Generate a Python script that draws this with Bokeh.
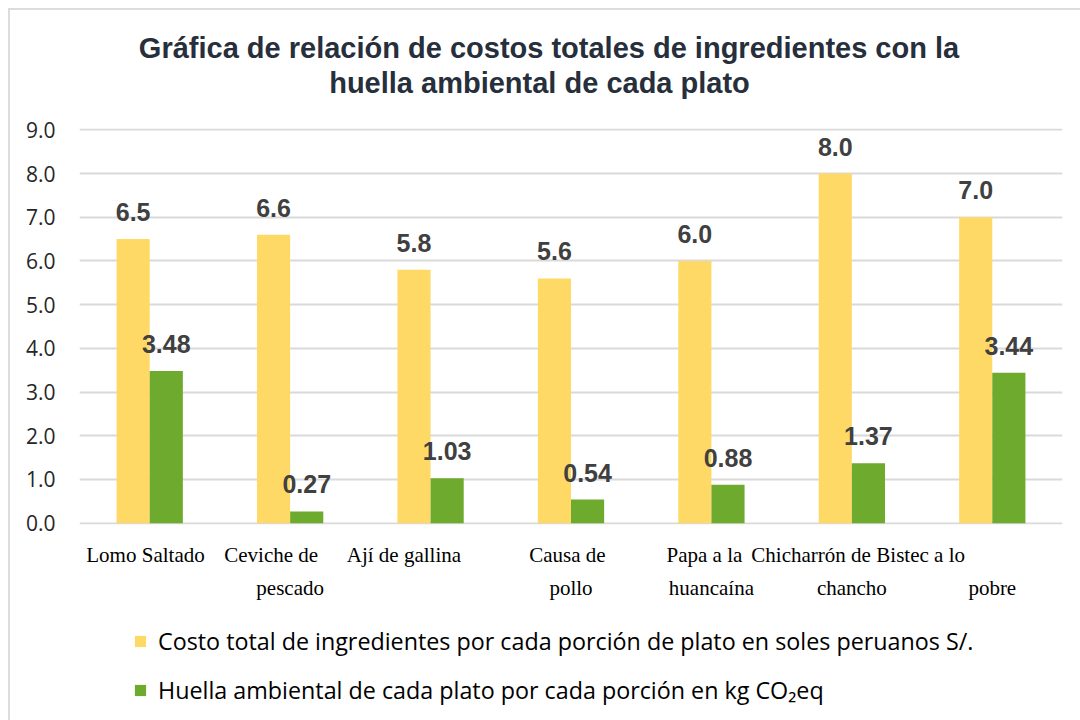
from bokeh.plotting import figure
from bokeh.layouts import column
from bokeh.models import (ColumnDataSource, Range1d, FixedTicker, LabelSet, Label,
                          Legend, LegendItem, LinearAxis)
from bokeh.core.properties import value
from bokeh.transform import dodge
from bokeh.embed import file_html
from bokeh.resources import INLINE

categories = ["Lomo Saltado", "Ceviche de pescado", "Ají de gallina", "Causa de pollo",
              "Papa a la huancaína", "Chicharrón de chancho", "Bistec a lo pobre"]
tick_line1 = ["Lomo Saltado", "Ceviche de", "Ají de gallina", "Causa de",
              "Papa a la", "Chicharrón de", "Bistec a lo"]
tick_line2 = ["", "pescado", "", "pollo", "huancaína", "chancho", "pobre"]
costo = [6.5, 6.6, 5.8, 5.6, 6.0, 8.0, 7.0]
huella = [3.48, 0.27, 1.03, 0.54, 0.88, 1.37, 3.44]
y_ticks = [0, 1, 2, 3, 4, 5, 6, 7, 8, 9]
title_lines = ["Gráfica de relación de costos totales de ingredientes con la",
               "huella ambiental de cada plato"]
legend_labels = ["Costo total de ingredientes por cada porción de plato en soles peruanos S/.",
                 "Huella ambiental de cada plato por cada porción en kg CO₂eq"]

# layout: horizontal shift of the first line of each category label (in category widths)
label_shift = [-0.03, -0.135, -0.19, -0.025, -0.05, -0.29, -0.51]

YELLOW = "#FFD966"
GREEN = "#6EAA2E"
idx = list(range(len(categories)))

src = ColumnDataSource(dict(
    idx=idx,
    costo=costo,
    huella=huella,
    costo_txt=[f"{v:.1f}" for v in costo],
    huella_txt=[f"{v:.2f}" for v in huella],
))

W = 1070
BL, BR = 69, 18


def bare_fig(h):
    f = figure(width=W, height=h, output_backend="svg", toolbar_location=None,
               x_axis_type=None, y_axis_type=None,
               min_border_left=BL, min_border_right=BR, min_border_top=0, min_border_bottom=0,
               outline_line_color=None, background_fill_color="white",
               border_fill_color="white")
    f.xgrid.visible = False
    f.ygrid.visible = False
    return f


# ---- title figure ----
pt = bare_fig(100)
for i, (t, cx) in enumerate(zip(title_lines, (469.5, 460))):
    pt.add_layout(Label(x=cx, y=63 - 35 * i, x_units="screen", y_units="screen",
                        text=t, text_align="center", text_baseline="middle",
                        text_font="Liberation Sans", text_font_style="bold",
                        text_font_size="29px", text_color="#262f3b"))

# ---- main chart ----
p = figure(width=W, height=500, output_backend="svg", toolbar_location=None,
           x_range=Range1d(-0.5, len(categories) - 0.5),
           y_range=Range1d(-0.03, 9.03),
           min_border_left=BL, min_border_right=BR, min_border_top=18, min_border_bottom=86,
           background_fill_color="white", border_fill_color="white",
           outline_line_color=None)

r1 = p.vbar(x=dodge("idx", -0.118), top="costo", width=0.236, source=src,
            fill_color=YELLOW, line_color=None)
r2 = p.vbar(x=dodge("idx", 0.118), top="huella", width=0.236, source=src,
            fill_color=GREEN, line_color=None)

lbl_font = value("Liberation Sans")
for xoff, col in ((-0.118, "costo"), (0.118, "huella")):
    p.add_layout(LabelSet(x=dodge("idx", xoff), y=col, text=col + "_txt",
                          source=src, text_align="center", text_baseline="alphabetic",
                          y_offset=18, text_font=lbl_font, text_font_style="bold",
                          text_font_size="25px", text_color="#404040"))

p.xgrid.grid_line_color = None
p.ygrid.grid_line_color = "#D9D9D9"
p.ygrid.grid_line_width = 2

p.yaxis.ticker = FixedTicker(ticks=y_ticks)
p.yaxis.major_label_overrides = {t: f"{t:.1f}" for t in y_ticks}
p.yaxis.axis_line_color = None
p.yaxis.major_tick_line_color = None
p.yaxis.minor_tick_line_color = None
p.yaxis.major_label_standoff = 18
p.yaxis.major_label_text_font = "Open Sans"
p.yaxis.major_label_text_font_size = "21px"
p.yaxis.major_label_text_color = "#262626"


def style_xaxis(ax, ticks, labels, standoff):
    ax.ticker = FixedTicker(ticks=ticks)
    ax.axis_line_color = None
    ax.major_tick_line_color = None
    ax.minor_tick_line_color = None
    ax.major_label_overrides = dict(zip(ticks, labels))
    ax.major_label_standoff = standoff
    ax.major_label_text_font = "Liberation Serif"
    ax.major_label_text_font_size = "21px"
    ax.major_label_text_color = "#000000"


ticks1 = [round(i + s, 3) for i, s in zip(idx, label_shift)]
style_xaxis(p.xaxis[0], ticks1, tick_line1, 12)
ax2 = LinearAxis()
style_xaxis(ax2, idx, tick_line2, 0)
p.add_layout(ax2, "below")

# ---- legend figure ----
pl = bare_fig(110)
g1 = pl.vbar(x="idx", top="costo", width=0.236, source=src, fill_color=YELLOW,
             line_color=None, visible=False)
g2 = pl.vbar(x="idx", top="huella", width=0.236, source=src, fill_color=GREEN,
             line_color=None, visible=False)
legend = Legend(items=[LegendItem(label=legend_labels[0], renderers=[g1]),
                       LegendItem(label=legend_labels[1], renderers=[g2])],
                location=(54, 14), orientation="vertical",
                glyph_width=14, glyph_height=14, label_standoff=11,
                label_text_font="Open Sans", label_text_font_size="23.3px",
                label_text_color="#000000", label_height=32, spacing=17,
                padding=0, margin=0, border_line_color=None, background_fill_alpha=0,
                inactive_fill_alpha=0)
pl.add_layout(legend, "center")

layout = column(pt, p, pl, spacing=0,
                styles={"margin-left": "8px", "margin-top": "8px",
                        "border-left": "2px solid #DCDCDC", "border-top": "2px solid #DCDCDC"})

open("out.html", "w").write(file_html(layout, INLINE))
